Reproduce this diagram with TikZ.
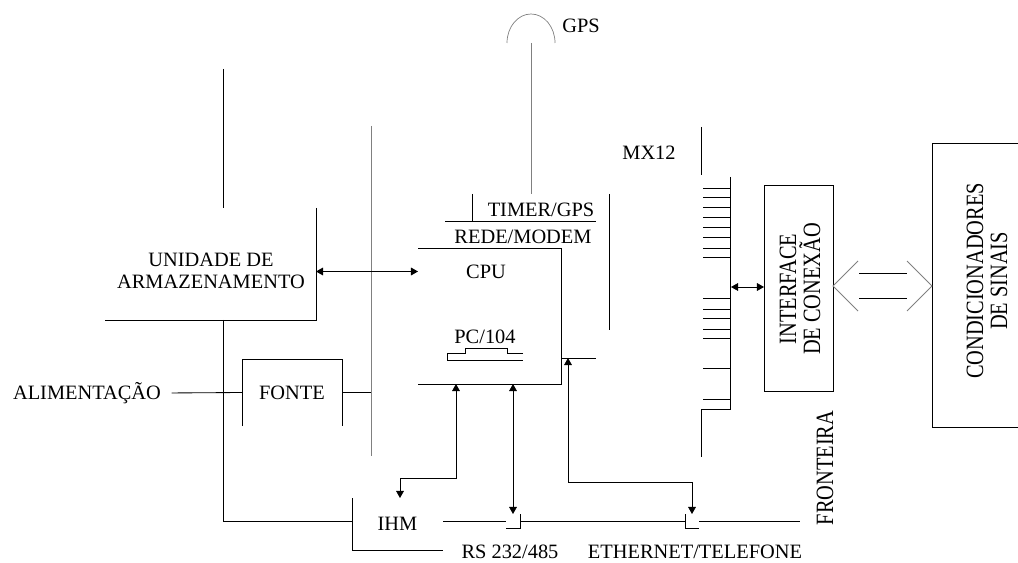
\documentclass[tikz,border=0pt]{standalone}
\usepackage{fontspec}
\setmainfont{Liberation Serif}
\usetikzlibrary{arrows.meta}
\newcommand{\upx}{0.025cm}

\begin{document}
\begin{tikzpicture}[x=0.025cm, y=-0.025cm, font=\fontsize{14.5}{15.5}\selectfont]
      \tikzstyle{part} = [inner sep=0pt, outer sep=0pt]
      \tikzstyle{wire} = [line width=0.6pt]
      \tikzstyle{gwire} = [line width=0.6pt, gray]
      \tikzstyle{edge} = [line width=0.6pt, >={Triangle[length=5pt, width=5.5pt]}]
      \tikzstyle{vtext} = [rotate=90, yscale=1.22, align=center, font=\fontsize{14.5}{14}\selectfont]
      \useasboundingbox (0,0) rectangle (1018,563);
      % blocks
      \node[part, minimum width=211*\upx, minimum height=112*\upx] (unid) at (210.5,264) {};
      \node[align=center] (unidt) at (211,271) {UNIDADE DE\\ARMAZENAMENTO};
      \node[part, minimum width=100*\upx, minimum height=67*\upx] (fonte) at (292,392.5) {FONTE};
      \node[part, minimum width=91*\upx, minimum height=52*\upx] (ihm) at (397.5,524) {IHM};
      \node[part, minimum width=143*\upx, minimum height=136*\upx] (cpu) at (489.5,316) {};
      \node (cput) at (486,271.5) {CPU};
      \node (pc) at (485,337) {PC/104};
      \node[part, draw, wire, minimum width=69*\upx, minimum height=206*\upx] (intf) at (798.5,288) {};
      \node[vtext] (intft) at (800,289) {INTERFACE\\DE CONEXÃO};
      \node[part, minimum width=86*\upx, minimum height=284*\upx] (cond) at (975,285) {};
      \node[vtext] (condt) at (987,281) {CONDICIONADORES\\DE SINAIS};
      % labels
      \node (alim) at (87,393) {ALIMENTAÇÃO};
      \node (gpst) at (581,26) {GPS};
      \node (mx) at (649,153) {MX12};
      \node (timer) at (541,210) {TIMER/GPS};
      \node (rede) at (523,237) {REDE/MODEM};
      \node[inner sep=1pt] (rs) at (510,552) {RS 232/485};
      \node[inner sep=1pt] (eth) at (695,552) {ETHERNET/TELEFONE};
      \node[vtext] (front) at (825,468) {FRONTEIRA};
      % points
      \coordinate (bus) at (0,521);
      \coordinate (lbus) at (223,69);
      \coordinate (pbus) at (371,126);
      \coordinate (pbusend) at (371,456);
      \coordinate (gps) at (531,43);
      \coordinate (tmr) at (472,194);
      \coordinate (cpuc) at (596,358);
      \coordinate (k1) at (456,478);
      \coordinate (k2) at (400,478);
      \coordinate (rsj) at (513,514);
      \coordinate (k4) at (568,482);
      \coordinate (ethj) at (692,514);
      \coordinate (mxj) at (731,287);
      \coordinate (hol) at (0,286);
      % outlines
      \draw[wire] (unid.north east) -- (unid.south east) -- (unid.south west);
      \draw[wire] (fonte.south west) -- (fonte.north west) -- (fonte.north east) -- (fonte.south east);
      \draw[wire] (ihm.north west) -- (ihm.south west) -- (ihm.south east);
      \draw[wire] (cpu.north west) -- (cpu.north east) -- (cpu.south east) -- (cpu.south west);
      \draw[wire] (cond.north east) -- (cond.north west) -- (cond.south west) -- (cond.south east);
      \draw[wire] (523,353) -- (507,353) -- (507,348) -- (465,348) -- (465,353) -- (447,353) -- (447,360) -- (523,360);
      % power and left side
      \draw[wire] (lbus) -- (lbus |- unid.north);
      \draw[wire] (lbus |- unid.south) -- (lbus |- bus) -- (ihm.west |- bus);
      \draw[wire, shorten <=4pt] (alim.east) -- (fonte.west);
      \draw[gwire] (pbus) -- (pbusend);
      \draw[wire] (fonte.east) -- (fonte.east -| pbus);
      % antenna and boards
      \draw[gwire, line width=0.5pt] (507,43) arc[start angle=180, end angle=0, x radius=0.6cm, y radius=0.725cm];
      \draw[gwire] (gps) -- (gps |- tmr);
      \draw[wire] (tmr) -- (472,221);
      \draw[wire] (445,221) -- (596,221);
      \draw[wire] (609,194) -- (609,330);
      \draw[wire] (cpu.east |- cpuc) -- (cpuc);
      % links
      \draw[edge, <->] (unid.east |- cput) -- (cpu.west |- cput);
      \draw[edge, <->] (k1 |- cpu.south) -- (k1) -- (k2) -- (k2 |- ihm.north);
      \draw[edge, <->] (rsj |- cpu.south) -- (rsj);
      \draw[edge, <->] (k4 |- cpuc) -- (k4) -| (ethj);
      \draw[wire] (ihm.east |- bus) -- (506,521) (506,528) -- (520,528) -- (520,514) (520,521) -- (685,521)
                  (685,514) -- (685,528) -- (699,528) (699,521) -- (800,521);
      % MX12
      \draw[wire] (701,127) -- (701,175);
      \draw[wire] (730,177) -- (730,409) -- (701,409) -- (701,457);
      \foreach \y in {188,197,207,217,227,237,248,257,298,309,318,329,338,368,399}
        \draw[wire] (703,\y) -- (730,\y);
      \draw[edge, <->] (mxj) -- (intf.west |- mxj);
      % wide link
      \draw[gwire] (intf.east |- hol) ++(25,-25) -- (intf.east |- hol) -- ++(25,25);
      \draw[gwire] (cond.west |- hol) ++(-25,-25) -- (cond.west |- hol) -- ++(-25,25);
      \draw[wire] (intf.east |- hol) ++(26,-13) -- ++(48,0);
      \draw[wire] (intf.east |- hol) ++(26,12) -- ++(48,0);
\end{tikzpicture}
\end{document}
